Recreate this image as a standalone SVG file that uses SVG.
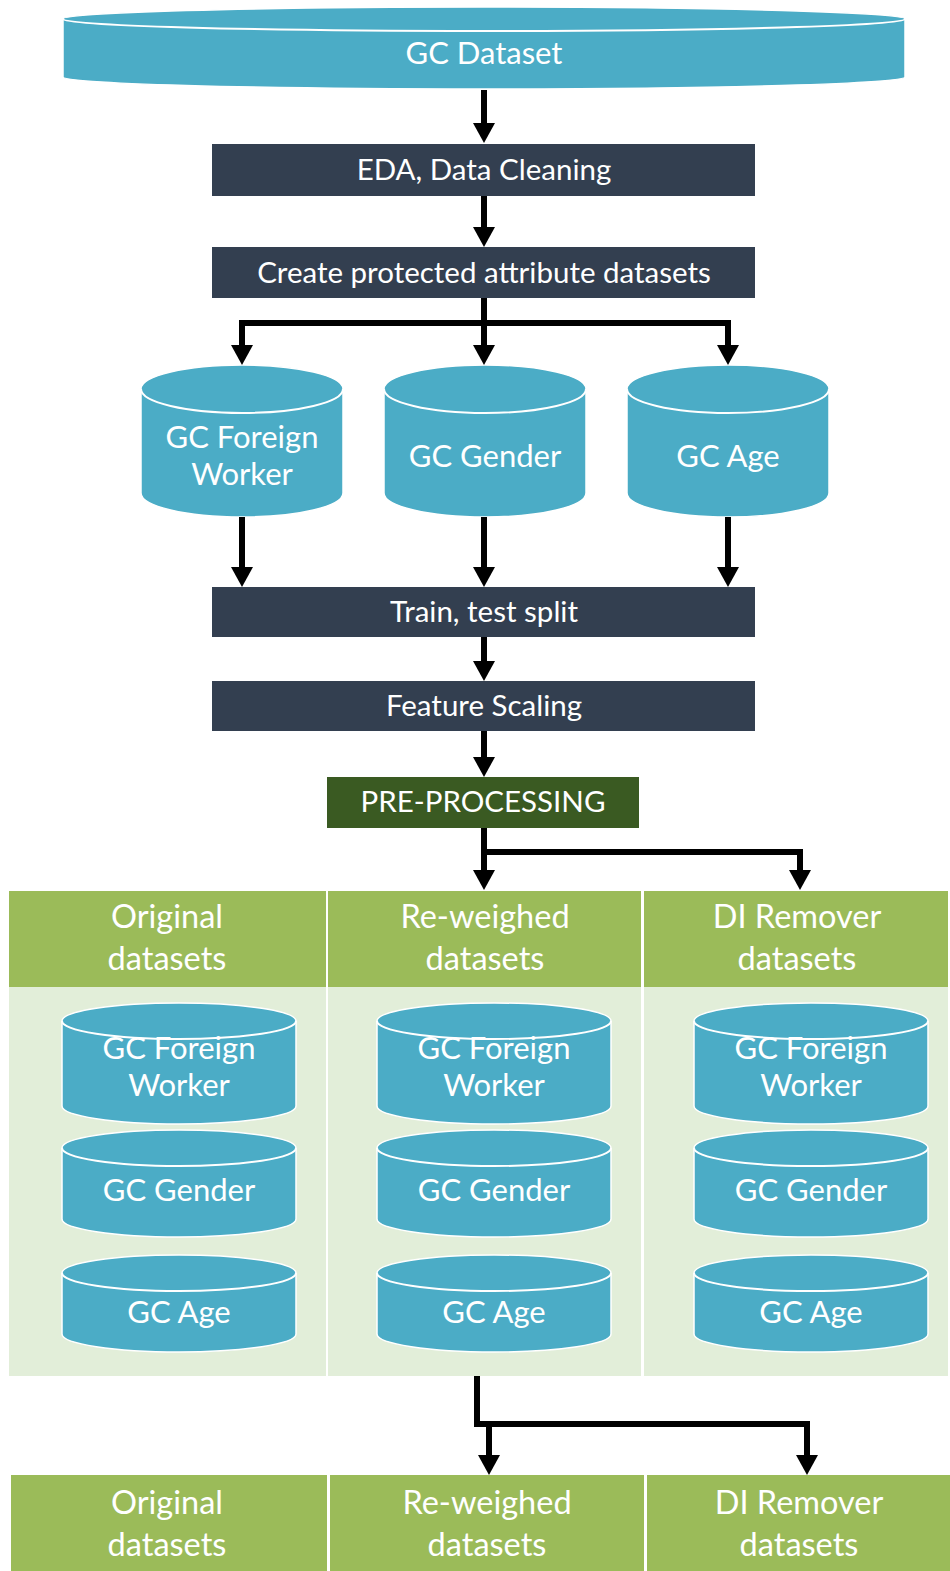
<svg xmlns="http://www.w3.org/2000/svg" width="950" height="1571" viewBox="0 0 950 1571">
  <style>
    .cyl { fill: #4BACC6; stroke: #ffffff; stroke-width: 1.5; }
    .rim { fill: none; stroke: #ffffff; stroke-width: 2; }
    .step { fill: #333F50; }
    .pre { fill: #3A5A22; }
    .hdr { fill: #9BBB59; }
    .body { fill: #E2EED9; }
    .t { font-family: Lato, "Open Sans", "Liberation Sans", sans-serif; fill: #ffffff; text-anchor: middle; }
    .s26 { font-size: 29.5px; }
    .s28 { font-size: 31px; }
    .s30 { font-size: 32.5px; }
    .wire { fill: none; stroke: #000000; stroke-width: 6; stroke-linejoin: miter; }
  </style>
  <defs>
    <marker id="head" viewBox="0 0 20 22" refX="0" refY="11" markerWidth="20" markerHeight="22" markerUnits="userSpaceOnUse" orient="auto">
      <path d="M0,0 L20,11 L0,22 z" fill="#000000"/>
    </marker>
  </defs>

  <rect width="950" height="1571" fill="#ffffff"/>

  <!-- source dataset -->
  <g id="gc-dataset">
    <path class="cyl" d="M63,19 V77 A421,12 0 0 0 905,77 V19 A421,12 0 0 0 63,19 z"/>
    <path class="rim" d="M63,19 A421,12 0 0 0 905,19"/>
    <text class="t s28" x="484" y="64">GC Dataset</text>
  </g>

  <g id="eda">
    <rect class="step" x="212" y="144" width="543" height="52"/>
    <text class="t s26" x="484" y="180">EDA, Data Cleaning</text>
  </g>

  <g id="create-protected">
    <rect class="step" x="212" y="247" width="543" height="51"/>
    <text class="t s26" x="484" y="283">Create protected attribute datasets</text>
  </g>

  <g id="gc-foreign-worker">
    <path class="cyl" d="M141,389 V493 A101,24 0 0 0 343,493 V389 A101,24 0 0 0 141,389 z"/>
    <path class="rim" d="M141,389 A101,24 0 0 0 343,389"/>
    <text class="t s28" x="242" y="448">GC Foreign</text>
    <text class="t s28" x="242" y="485">Worker</text>
  </g>

  <g id="gc-gender">
    <path class="cyl" d="M384,389 V493 A101,24 0 0 0 586,493 V389 A101,24 0 0 0 384,389 z"/>
    <path class="rim" d="M384,389 A101,24 0 0 0 586,389"/>
    <text class="t s28" x="485" y="467">GC Gender</text>
  </g>

  <g id="gc-age">
    <path class="cyl" d="M627,389 V493 A101,24 0 0 0 829,493 V389 A101,24 0 0 0 627,389 z"/>
    <path class="rim" d="M627,389 A101,24 0 0 0 829,389"/>
    <text class="t s28" x="728" y="467">GC Age</text>
  </g>

  <g id="train-test-split">
    <rect class="step" x="212" y="587" width="543" height="50"/>
    <text class="t s26" x="484" y="622">Train, test split</text>
  </g>

  <g id="feature-scaling">
    <rect class="step" x="212" y="681" width="543" height="50"/>
    <text class="t s26" x="484" y="716">Feature Scaling</text>
  </g>

  <g id="pre-processing">
    <rect class="pre" x="327" y="777" width="312" height="51"/>
    <text class="t s26" x="483" y="812">PRE-PROCESSING</text>
  </g>

  <!-- processed dataset table -->
  <g id="original-datasets">
    <rect class="hdr" x="9" y="891" width="317" height="96"/>
    <rect class="body" x="9" y="987" width="317" height="389"/>
    <text class="t s30" x="167" y="928">Original</text>
    <text class="t s30" x="167" y="970">datasets</text>
    <path class="cyl" d="M62,1021 V1106 A117,18 0 0 0 296,1106 V1021 A117,18 0 0 0 62,1021 z"/>
    <path class="rim" d="M62,1021 A117,18 0 0 0 296,1021"/>
    <text class="t s28" x="179" y="1059">GC Foreign</text>
    <text class="t s28" x="179" y="1096">Worker</text>
    <path class="cyl" d="M62,1148 V1219 A117,18 0 0 0 296,1219 V1148 A117,18 0 0 0 62,1148 z"/>
    <path class="rim" d="M62,1148 A117,18 0 0 0 296,1148"/>
    <text class="t s28" x="179" y="1201">GC Gender</text>
    <path class="cyl" d="M62,1273 V1334 A117,18 0 0 0 296,1334 V1273 A117,18 0 0 0 62,1273 z"/>
    <path class="rim" d="M62,1273 A117,18 0 0 0 296,1273"/>
    <text class="t s28" x="179" y="1323">GC Age</text>
  </g>

  <g id="reweighed-datasets">
    <rect class="hdr" x="328" y="891" width="313" height="96"/>
    <rect class="body" x="328" y="987" width="313" height="389"/>
    <text class="t s30" x="485" y="928">Re-weighed</text>
    <text class="t s30" x="485" y="970">datasets</text>
    <path class="cyl" d="M377,1021 V1106 A117,18 0 0 0 611,1106 V1021 A117,18 0 0 0 377,1021 z"/>
    <path class="rim" d="M377,1021 A117,18 0 0 0 611,1021"/>
    <text class="t s28" x="494" y="1059">GC Foreign</text>
    <text class="t s28" x="494" y="1096">Worker</text>
    <path class="cyl" d="M377,1148 V1219 A117,18 0 0 0 611,1219 V1148 A117,18 0 0 0 377,1148 z"/>
    <path class="rim" d="M377,1148 A117,18 0 0 0 611,1148"/>
    <text class="t s28" x="494" y="1201">GC Gender</text>
    <path class="cyl" d="M377,1273 V1334 A117,18 0 0 0 611,1334 V1273 A117,18 0 0 0 377,1273 z"/>
    <path class="rim" d="M377,1273 A117,18 0 0 0 611,1273"/>
    <text class="t s28" x="494" y="1323">GC Age</text>
  </g>

  <g id="di-remover-datasets">
    <rect class="hdr" x="644" y="891" width="304" height="96"/>
    <rect class="body" x="644" y="987" width="304" height="389"/>
    <text class="t s30" x="797" y="928">DI Remover</text>
    <text class="t s30" x="797" y="970">datasets</text>
    <path class="cyl" d="M694,1021 V1106 A117,18 0 0 0 928,1106 V1021 A117,18 0 0 0 694,1021 z"/>
    <path class="rim" d="M694,1021 A117,18 0 0 0 928,1021"/>
    <text class="t s28" x="811" y="1059">GC Foreign</text>
    <text class="t s28" x="811" y="1096">Worker</text>
    <path class="cyl" d="M694,1148 V1219 A117,18 0 0 0 928,1219 V1148 A117,18 0 0 0 694,1148 z"/>
    <path class="rim" d="M694,1148 A117,18 0 0 0 928,1148"/>
    <text class="t s28" x="811" y="1201">GC Gender</text>
    <path class="cyl" d="M694,1273 V1334 A117,18 0 0 0 928,1334 V1273 A117,18 0 0 0 694,1273 z"/>
    <path class="rim" d="M694,1273 A117,18 0 0 0 928,1273"/>
    <text class="t s28" x="811" y="1323">GC Age</text>
  </g>

  <!-- bottom header row -->
  <g id="original-datasets-out">
    <rect class="hdr" x="11" y="1475" width="316" height="96"/>
    <text class="t s30" x="167" y="1514">Original</text>
    <text class="t s30" x="167" y="1556">datasets</text>
  </g>
  <g id="reweighed-datasets-out">
    <rect class="hdr" x="330" y="1475" width="314" height="96"/>
    <text class="t s30" x="487" y="1514">Re-weighed</text>
    <text class="t s30" x="487" y="1556">datasets</text>
  </g>
  <g id="di-remover-datasets-out">
    <rect class="hdr" x="647" y="1475" width="303" height="96"/>
    <text class="t s30" x="799" y="1514">DI Remover</text>
    <text class="t s30" x="799" y="1556">datasets</text>
  </g>

  <!-- connectors -->
  <g id="connectors">
    <path class="wire" d="M484,90 V123" marker-end="url(#head)"/>
    <path class="wire" d="M484,196 V227" marker-end="url(#head)"/>
    <path class="wire" d="M484,298 V345" marker-end="url(#head)"/>
    <path class="wire" d="M484,323 H242 V345" marker-end="url(#head)"/>
    <path class="wire" d="M484,323 H728 V345" marker-end="url(#head)"/>
    <path class="wire" d="M242,517 V567" marker-end="url(#head)"/>
    <path class="wire" d="M484,517 V567" marker-end="url(#head)"/>
    <path class="wire" d="M728,517 V567" marker-end="url(#head)"/>
    <path class="wire" d="M484,637 V661" marker-end="url(#head)"/>
    <path class="wire" d="M484,731 V757" marker-end="url(#head)"/>
    <path class="wire" d="M484,828 V870" marker-end="url(#head)"/>
    <path class="wire" d="M484,852 H800 V870" marker-end="url(#head)"/>
    <path class="wire" d="M477,1376 V1424 H807 V1455" marker-end="url(#head)"/>
    <path class="wire" d="M489,1424 V1455" marker-end="url(#head)"/>
  </g>
</svg>
